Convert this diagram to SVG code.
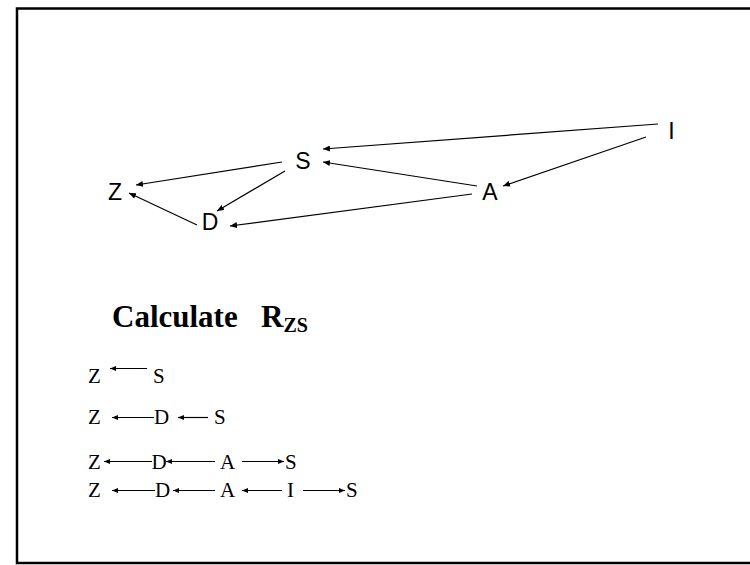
<svg xmlns="http://www.w3.org/2000/svg" width="750" height="565" viewBox="0 0 750 565">
<defs>
<marker id="ah" viewBox="0 0 7 6" refX="7" refY="3" markerWidth="7" markerHeight="6" markerUnits="userSpaceOnUse" orient="auto">
<path d="M0,0 L7,3 L0,6 z" fill="#000"/>
</marker>
<marker id="ahs" viewBox="0 0 6 5" refX="6" refY="2.5" markerWidth="6" markerHeight="5" markerUnits="userSpaceOnUse" orient="auto">
<path d="M0,0 L6,2.5 L0,5 z" fill="#000"/>
</marker>
<style>
.n{font-family:"Liberation Sans",Arial,sans-serif;font-size:23px;fill:#000;text-anchor:middle}
.e{stroke:#000;stroke-width:1.2;fill:none;marker-end:url(#ah)}
.p{font-family:"Liberation Serif","Times New Roman",serif;font-size:21px;fill:#000}
.pe{stroke:#000;stroke-width:1.2;fill:none;marker-end:url(#ahs)}
.t{font-family:"Liberation Serif","Times New Roman",serif;font-weight:bold;fill:#000}
</style>
</defs>
<rect x="0" y="0" width="750" height="565" fill="#fff"/>
<rect x="17" y="8.5" width="745" height="554.5" fill="none" stroke="#000" stroke-width="2.5"/>

<g id="connectors">
<line class="e" x1="658" y1="124" x2="323" y2="149"/>
<line class="e" x1="646" y1="137" x2="503" y2="186"/>
<line class="e" x1="477" y1="186" x2="323" y2="162"/>
<line class="e" x1="472" y1="194" x2="230" y2="226"/>
<line class="e" x1="282" y1="162" x2="136" y2="185"/>
<line class="e" x1="285" y1="171" x2="217" y2="211"/>
<line class="e" x1="197" y1="225" x2="129" y2="193"/>
</g>

<g id="node-I"><text class="n" x="671.5" y="139">I</text></g>
<g id="node-S"><text class="n" x="303" y="168.5">S</text></g>
<g id="node-Z"><text class="n" x="115" y="200">Z</text></g>
<g id="node-D"><text class="n" x="210" y="230">D</text></g>
<g id="node-A"><text class="n" x="490" y="200">A</text></g>

<g id="title">
<text class="t" x="112" y="327" font-size="31">Calculate</text>
<text class="t" x="261" y="327" font-size="31">R<tspan font-size="20" dy="5">ZS</tspan></text>
</g>

<g id="paths">
<text class="p" x="88" y="383">Z</text>
<text class="p" x="153" y="383">S</text>
<line class="pe" x1="147" y1="368.5" x2="110" y2="368.5"/>

<text class="p" x="88" y="423.5">Z</text>
<text class="p" x="154" y="423.5">D</text>
<text class="p" x="214" y="423.5">S</text>
<line class="pe" x1="154" y1="417.5" x2="112" y2="417.5"/>
<line class="pe" x1="208" y1="417.5" x2="178" y2="417.5"/>

<text class="p" x="88" y="468.5">Z</text>
<text class="p" x="151.5" y="468.5">D</text>
<text class="p" x="220" y="468.5">A</text>
<text class="p" x="285" y="468.5">S</text>
<line class="pe" x1="152" y1="461.5" x2="104" y2="461.5"/>
<line class="pe" x1="215" y1="461.5" x2="166" y2="461.5"/>
<line class="pe" x1="242" y1="461.5" x2="284" y2="461.5"/>

<text class="p" x="88" y="497">Z</text>
<text class="p" x="155" y="497">D</text>
<text class="p" x="220" y="497">A</text>
<text class="p" x="287" y="497">I</text>
<text class="p" x="346" y="497">S</text>
<line class="pe" x1="155" y1="490.5" x2="112" y2="490.5"/>
<line class="pe" x1="215" y1="490.5" x2="173" y2="490.5"/>
<line class="pe" x1="282" y1="490.5" x2="242" y2="490.5"/>
<line class="pe" x1="303" y1="490.5" x2="345" y2="490.5"/>
</g>
</svg>
